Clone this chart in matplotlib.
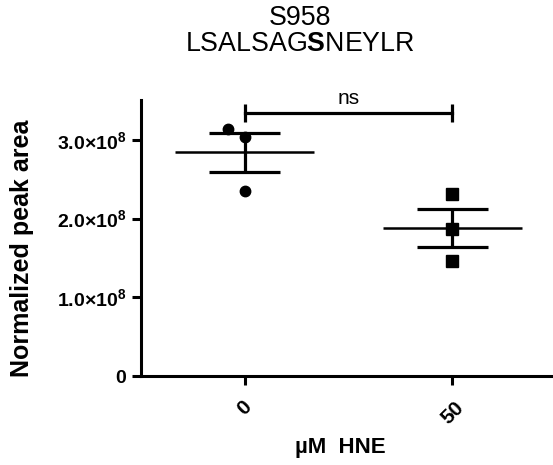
import numpy as np
import matplotlib
matplotlib.use("Agg")
import matplotlib.pyplot as plt

plt.rcParams['font.family'] = ['Liberation Sans', 'DejaVu Sans']
plt.rcParams['mathtext.fontset'] = 'custom'
plt.rcParams['mathtext.rm'] = 'Liberation Sans'
plt.rcParams['mathtext.bf'] = 'Liberation Sans:bold'

categories = ['0', '50']
group_0 = [3.14e8, 3.04e8, 2.35e8]
group_50 = [2.31e8, 1.87e8, 1.46e8]
jitter_0 = [-0.08, 0.0, 0.0]
jitter_50 = [0.0, 0.0, 0.0]
yticks = [0, 1e8, 2e8, 3e8]
ytick_labels = ['0', r'$\mathbf{1.0{\times}10^{8}}$', r'$\mathbf{2.0{\times}10^{8}}$', r'$\mathbf{3.0{\times}10^{8}}$']

W, H = 553, 465
fig = plt.figure(figsize=(W / 100, H / 100), dpi=100)
ax_w = (556 - 141) / W
ax_h = 275.5 / H
ax = fig.add_axes([141 / W, 89 / H, ax_w, ax_h])

lw = 2.3
groups = [group_0, group_50]
jitters = [jitter_0, jitter_50]
markers = ['o', 's']
for i, (vals, jit, m) in enumerate(zip(groups, jitters, markers)):
    v = np.array(vals)
    xs = i + np.array(jit)
    ax.plot(xs, v, linestyle='none', marker=m, color='black',
            markersize=7.5 if m == 'o' else 8, zorder=3, clip_on=False)
    mean = v.mean()
    sem = v.std(ddof=1) / np.sqrt(len(v))
    ax.hlines(mean, i - 0.335, i + 0.335, color='black', lw=1.8, zorder=2)
    ax.vlines(i, mean - sem, mean + sem, color='black', lw=lw, zorder=2)
    ax.hlines([mean - sem, mean + sem], i - 0.17, i + 0.17, color='black', lw=lw, zorder=2)

# significance bracket
yb = 3.34e8
ax.plot([0, 1], [yb, yb], color='black', lw=lw, clip_on=False)
ax.vlines([0, 1], yb - 0.11e8, yb + 0.11e8, color='black', lw=lw, clip_on=False)
ax.text(0.5, yb + 0.07e8, 'ns', ha='center', va='bottom', fontsize=15)

ax.set_xlim(-0.5, 1.5)
ax.set_ylim(0, 3.5e8)
ax.set_xticks([0, 1])
ax.set_xticklabels(categories, rotation=45, fontweight='bold', fontsize=15,
                   ha='center', va='top')
ax.set_yticks(yticks)
ax.set_yticklabels(ytick_labels, fontsize=14, fontweight='bold')

for s in ['top', 'right']:
    ax.spines[s].set_visible(False)
for s in ['left', 'bottom']:
    ax.spines[s].set_linewidth(2.2)
ax.tick_params(axis='both', width=2.2, length=6.5, direction='out')
ax.tick_params(axis='x', pad=9)
ax.tick_params(axis='y', pad=4)

ax.set_ylabel('Normalized peak area', fontsize=18, fontweight='bold')
ax.yaxis.set_label_coords((34 - 141) / 415, 0.465)
ax.set_xlabel('µM  HNE', fontsize=16, fontweight='bold')
ax.xaxis.set_label_coords((340 - 141) / 415, (376 - 437) / 275.5)

fig.text(300 / W, 1 - 18 / H, 'S958', ha='center', va='center', fontsize=19.3)
fig.text(300 / W, 1 - 44 / H, r'LSALSAG$\mathbf{S}$NEYLR', ha='center', va='center', fontsize=19.3)

fig.savefig('out.png', dpi=100)
